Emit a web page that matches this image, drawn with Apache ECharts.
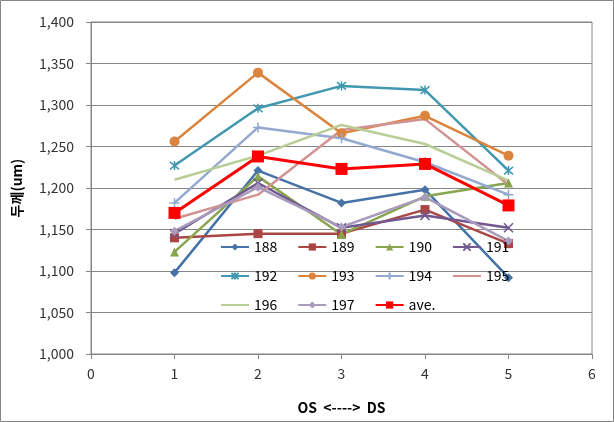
<!DOCTYPE html>
<html><head><meta charset="utf-8">
<script src="https://cdn.jsdelivr.net/npm/echarts@6/dist/echarts.min.js"></script>
<style>html,body{margin:0;padding:0;background:#fff}#c{width:614px;height:422px}</style>
</head><body><div id="c"></div>
<script>
const positions = [1, 2, 3, 4, 5];
const seriesNames = ['188','189','190','191','192','193','194','195','196','197','ave.'];
const s188 = [1098, 1221, 1182, 1198, 1092];
const s189 = [1140, 1145, 1145, 1174, 1133];
const s190 = [1123, 1214, 1144, 1190, 1206];
const s191 = [1145, 1206, 1152, 1167, 1152];
const s192 = [1227, 1296, 1323, 1318, 1221];
const s193 = [1256, 1339, 1266, 1287, 1239];
const s194 = [1182, 1273, 1260, 1231, 1192];
const s195 = [1163, 1192, 1270, 1283, 1204];
const s196 = [1210, 1239, 1276, 1253, 1209];
const s197 = [1148, 1201, 1153, 1189, 1136];
const sAve = [1170, 1238, 1223, 1229, 1179];
const seriesValues = [s188, s189, s190, s191, s192, s193, s194, s195, s196, s197, sAve];

const colors = ['#4572A7','#AA4643','#89A54E','#71588F','#4198AF','#DB843D','#93A9CF','#D19392','#B9CD96','#A99BBD','#FF0000'];
const symbols = ['diamond','rect','triangle',
  'path://M0,0L10,10M10,0L0,10',
  'path://M0,0L10,10M10,0L0,10M5,-1L5,11',
  'circle',
  'path://M5,0L5,10M0,5L10,5',
  'none','none','diamond','rect'];
const sizes = [9, 9, 9, 9, 9, 10, 10, 0, 0, 9, 12];
const strokeSym = [false,false,false,true,true,false,true,false,false,false,false];

const font = "'Noto Sans CJK KR', 'Noto Sans', sans-serif";
const series = seriesNames.map((n, i) => ({
  name: n, type: 'line',
  data: positions.map((x, j) => [x, seriesValues[i][j]]),
  symbol: symbols[i], symbolSize: sizes[i],
  lineStyle: { color: colors[i], width: i === 10 ? 3 : 2.5 },
  itemStyle: strokeSym[i] ? { color: colors[i], borderColor: colors[i], borderWidth: 1.5 } : { color: colors[i], borderWidth: 0 },
  emphasis: { disabled: true },
  z: i === 10 ? 5 : 2
}));

function mkLegend(names, top) {
  return {
    data: names.map(n => (n === '195' || n === '196') ? { name: n, itemStyle: { opacity: 0 } } : n),
    left: 220, top: top, orient: 'horizontal', padding: 0,
    itemWidth: 28, itemHeight: 9, itemGap: 20,
    textStyle: { fontFamily: font, fontSize: 14, color: '#000' },
    selectedMode: false
  };
}

const chart = echarts.init(document.getElementById('c'));
chart.setOption({
  animation: false,
  color: colors,
  textStyle: { fontFamily: font },
  grid: { left: 91, right: 22, top: 22, bottom: 68, show: true, borderColor: '#868686', borderWidth: 1 },
  legend: [
    mkLegend(seriesNames.slice(0, 4), 240),
    mkLegend(seriesNames.slice(4, 8), 269),
    mkLegend(seriesNames.slice(8, 11), 298)
  ],
  xAxis: {
    type: 'value', min: 0, max: 6, interval: 1,
    name: 'OS  <---->  DS', nameLocation: 'middle', nameGap: 47,
    nameTextStyle: { fontFamily: font, fontWeight: 'bold', fontSize: 14, color: '#000' },
    axisLine: { show: true, lineStyle: { color: '#868686' } },
    axisTick: { show: true, inside: false, length: 5, lineStyle: { color: '#868686' } },
    axisLabel: { fontSize: 14, color: '#333', margin: 13 },
    splitLine: { show: false }
  },
  yAxis: {
    type: 'value', min: 1000, max: 1400, interval: 50,
    name: '두께(um)', nameLocation: 'middle', nameGap: 67, nameRotate: 90,
    nameTextStyle: { fontFamily: font, fontWeight: 'bold', fontSize: 14, color: '#000' },
    axisLine: { show: true, lineStyle: { color: '#868686' } },
    axisTick: { show: true, inside: false, length: 5, lineStyle: { color: '#868686' } },
    axisLabel: { fontSize: 14, color: '#333', margin: 17,
      formatter: v => String(v).replace(/\B(?=(\d{3})+(?!\d))/g, ',') },
    splitLine: { show: true, lineStyle: { color: '#868686', width: 1 } }
  },
  graphic: [{ type: 'rect', shape: { x: 0.5, y: 0.5, width: 613, height: 421 }, style: { fill: 'none', stroke: '#868686', lineWidth: 1 }, silent: true, z: -1 }],
  series: series
});
</script></body></html>
